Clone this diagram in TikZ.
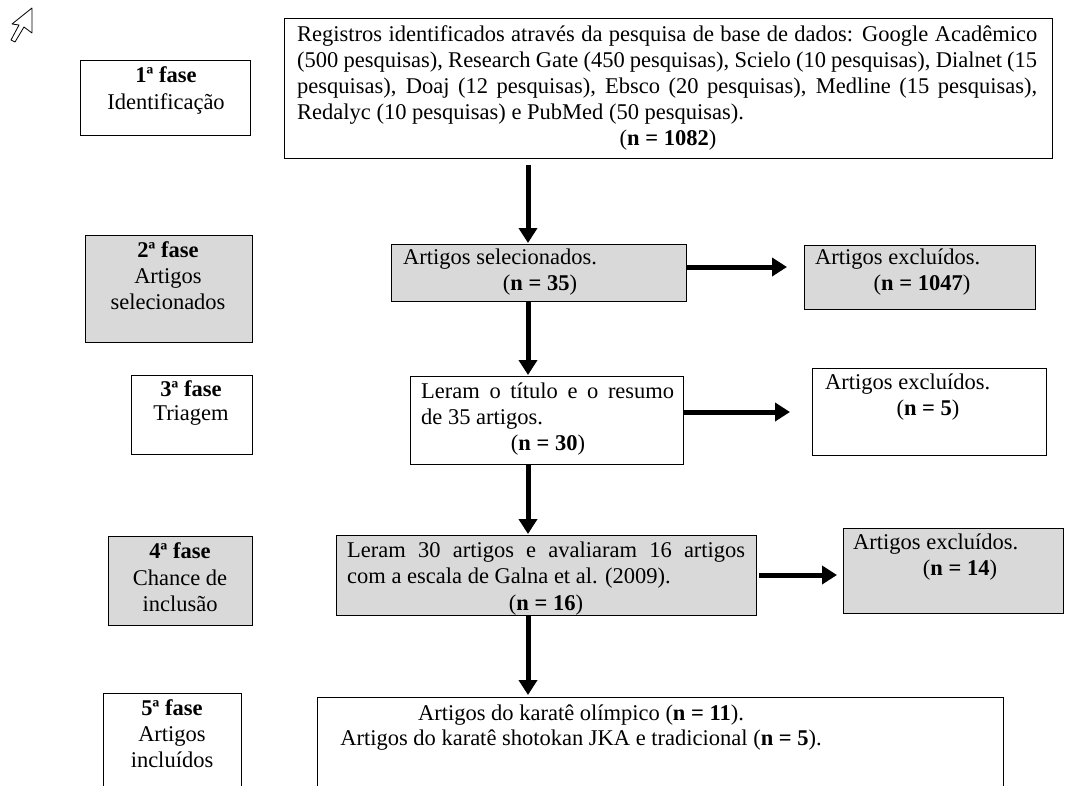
\documentclass[tikz,border=0pt]{standalone}
\usepackage{fontspec}
\setmainfont{Liberation Serif}
\usetikzlibrary{arrows.meta,calc}
\definecolor{boxgray}{RGB}{217,217,217}
\newcommand\fs{\fontsize{22.5}{25.5}\selectfont}
\begin{document}
\begin{tikzpicture}[x=1pt,y=-1pt,
  box/.style={draw=black, line width=1.1pt, inner sep=0pt, anchor=north west},
  gbox/.style={box, fill=boxgray},
  txt/.style={inner sep=0pt, font=\fs},
  arr/.style={line width=5pt, -{Triangle[length=15pt,width=18pt]}}]
\useasboundingbox (0,0) rectangle (1065,785);
% cursor icon
\draw[line width=0.8pt, line join=round] (32,8) -- (32,33) -- (24,27) -- (15,42) -- (11,40) -- (19,25) -- (12,24) -- cycle;

% boxes
\node[box, minimum width=768pt, minimum height=140pt] (top) at (284,18) {};
\node[box, minimum width=170pt, minimum height=75pt] (p1) at (80,60) {};
\node[gbox, minimum width=167pt, minimum height=107pt] (p2) at (85,235) {};
\node[gbox, minimum width=295pt, minimum height=57pt] (sel) at (391,244) {};
\node[gbox, minimum width=231pt, minimum height=64pt] (exc1) at (804,245) {};
\node[box, minimum width=121pt, minimum height=79pt] (p3) at (131,375) {};
\node[box, minimum width=273pt, minimum height=88pt] (leram) at (410,376) {};
\node[box, minimum width=234pt, minimum height=87pt] (exc2) at (812,368) {};
\node[gbox, minimum width=144pt, minimum height=89pt] (p4) at (108,536) {};
\node[gbox, minimum width=420pt, minimum height=80pt] (leram30) at (336,535) {};
\node[gbox, minimum width=220pt, minimum height=85pt] (exc3) at (843,528) {};
\node[box, minimum width=138pt, minimum height=100pt] (p5) at (103,693) {};
\node[box, minimum width=686pt, minimum height=100pt] (final) at (317,697) {};

% top box text
\node[txt, anchor=base west] (t1) at (297,41) {\makebox[740pt][s]{Registros identificados através da pesquisa de base de dados: Google Acadêmico}};
\node[txt, anchor=base west] (t2) at (297,67) {\makebox[740pt][s]{(500 pesquisas), Research Gate (450 pesquisas), Scielo (10 pesquisas), Dialnet (15}};
\node[txt, anchor=base west] (t3) at (297,93) {\makebox[740pt][s]{pesquisas), Doaj (12 pesquisas), Ebsco (20 pesquisas), Medline (15 pesquisas),}};
\node[txt, anchor=base west] (t4) at (297,119) {Redalyc (10 pesquisas) e PubMed (50 pesquisas).};
\node[txt, anchor=base] (t5) at (668,145) {(\textbf{n = 1082})};

% phase 1
\node[txt, anchor=base] (p1a) at (166,82) {\textbf{1ª fase}};
\node[txt, anchor=base] (p1b) at (166,109) {Identificação};
% phase 2
\node[txt, anchor=base] (p2a) at (168,257) {\textbf{2ª fase}};
\node[txt, anchor=base] (p2b) at (168,283) {Artigos};
\node[txt, anchor=base] (p2c) at (168,309) {selecionados};
% selected
\node[txt, anchor=base west] (s1) at (403,264) {Artigos selecionados.};
\node[txt, anchor=base] (s2) at (540,290) {(\textbf{n = 35})};
% excluded 1
\node[txt, anchor=base west] (e1a) at (815,264) {Artigos excluídos.};
\node[txt, anchor=base] (e1b) at (922,290) {(\textbf{n = 1047})};
% phase 3
\node[txt, anchor=base] (p3a) at (191,396) {\textbf{3ª fase}};
\node[txt, anchor=base] (p3b) at (191,420) {Triagem};
% leram
\node[txt, anchor=base west] (l1) at (421,398) {\makebox[253pt][s]{Leram o título e o resumo}};
\node[txt, anchor=base west] (l2) at (421,424) {de 35 artigos.};
\node[txt, anchor=base] (l3) at (548,450) {(\textbf{n = 30})};
% excluded 2
\node[txt, anchor=base west] (e2a) at (825,389) {Artigos excluídos.};
\node[txt, anchor=base] (e2b) at (928,415) {(\textbf{n = 5})};
% phase 4
\node[txt, anchor=base] (p4a) at (180,558) {\textbf{4ª fase}};
\node[txt, anchor=base] (p4b) at (180,585) {Chance de};
\node[txt, anchor=base] (p4c) at (180,611) {inclusão};
% leram 30
\node[txt, anchor=base west] (m1) at (347,557) {\makebox[398pt][s]{Leram 30 artigos e avaliaram 16 artigos}};
\node[txt, anchor=base west] (m2) at (347,583) {com a escala de Galna et al. (2009).};
\node[txt, anchor=base] (m3) at (546,610) {(\textbf{n = 16})};
% excluded 3
\node[txt, anchor=base west] (e3a) at (853,549) {Artigos excluídos.};
\node[txt, anchor=base] (e3b) at (960,575) {(\textbf{n = 14})};
% phase 5
\node[txt, anchor=base] (p5a) at (172,715) {\textbf{5ª fase}};
\node[txt, anchor=base] (p5b) at (172,741) {Artigos};
\node[txt, anchor=base] (p5c) at (172,767) {incluídos};
% final
\node[txt, anchor=base] (f1) at (581,720) {Artigos do karatê olímpico (\textbf{n = 11}).};
\node[txt, anchor=base] (f2) at (581,745) {Artigos do karatê shotokan JKA e tradicional (\textbf{n = 5}).};

% arrows
\draw[arr] ($(top.south west)+(244,6)$) -- ($(sel.north west)+(137,-1)$);
\draw[arr] ($(sel.north east)+(0,23)$) -- ($(exc1.north west)+(-17,22)$);
\draw[arr] ($(sel.south west)+(137,0)$) -- ($(leram.north west)+(118,-1)$);
\draw[arr] ($(leram.north east)+(0,36)$) -- ($(exc2.north west)+(-22,44)$);
\draw[arr] ($(leram.south west)+(118,0)$) -- ($(leram30.north west)+(192,-1)$);
\draw[arr] ($(leram30.north east)+(2,40)$) -- ($(exc3.north west)+(-6,47)$);
\draw[arr] ($(leram30.south west)+(192,0)$) -- ($(final.north west)+(211,-2)$);
\end{tikzpicture}
\end{document}
